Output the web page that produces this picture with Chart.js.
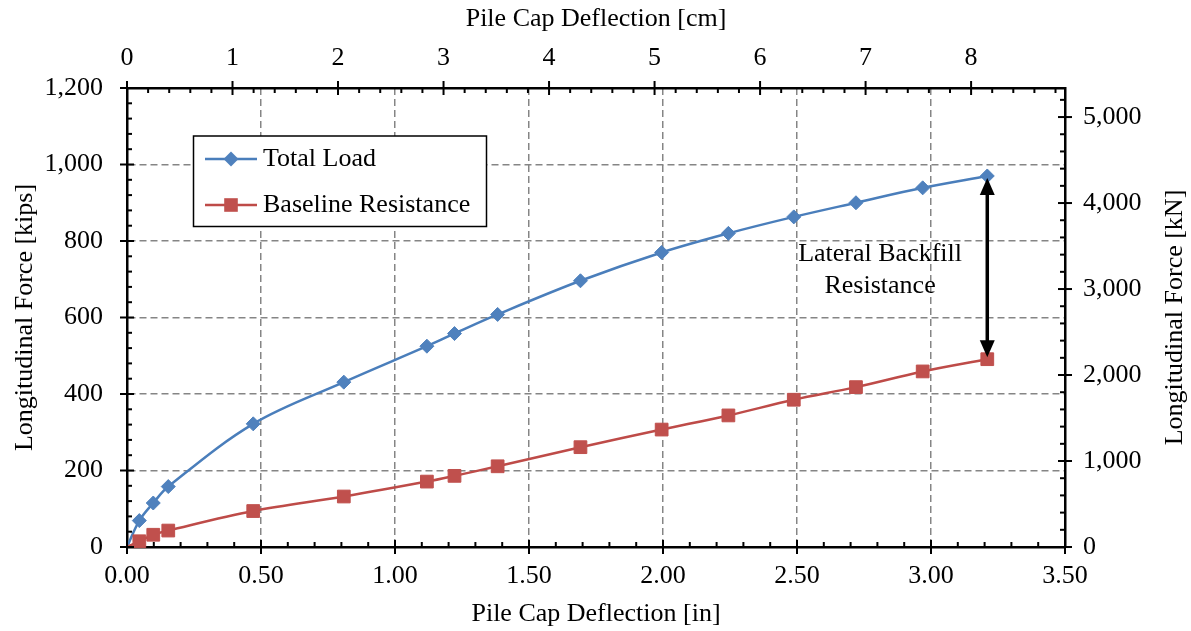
<!DOCTYPE html>
<html>
<head>
<meta charset="utf-8">
<title>Pile Cap Deflection</title>
<script src="https://cdn.jsdelivr.net/npm/chart.js@4.4.1/dist/chart.umd.min.js"></script>
<style>
  html, body { margin: 0; padding: 0; background: #fff; }
  canvas { display: block; }
</style>
</head>
<body>
<canvas id="graph01" width="1191" height="631"></canvas>
<script>
// deflection steps of the pile cap (in)
const deflexion_in = [0, 0.046, 0.098, 0.154, 0.471, 0.809, 1.119, 1.222, 1.383, 1.692, 1.995, 2.244, 2.488, 2.720, 2.969, 3.210];
// longitudinal force (kips)
const charge_totale = [0, 69, 115, 158, 322, 431, 525, 558, 608, 696, 770, 820, 863, 900, 939, 970];
const resistance_base = [0, 15, 32, 43, 94, 132, 171, 186, 211, 261, 307, 344, 385, 418, 459, 491];

const series = ['Total Load', 'Baseline Resistance'];

// axis graduations
const ticks_in = [0, 0.5, 1, 1.5, 2, 2.5, 3, 3.5];
const ticks_cm = [0, 1, 2, 3, 4, 5, 6, 7, 8];
const ticks_kips = [0, 200, 400, 600, 800, 1000, 1200];
const ticks_kN = [0, 1000, 2000, 3000, 4000, 5000];

const IN_TO_CM = 2.54;
const KIP_TO_KN = 4.44822;

const COULEURS = {
  bleu: '#4A7EBB',
  bleu_marque: '#4F81BD',
  rouge: '#BE4B48',
  rouge_marque: '#C0504D',
  grille: '#858585',
};

const POLICE = "'Liberation Serif', 'Times New Roman', serif";
const TAILLE = 26;

Chart.defaults.color = '#000';
Chart.defaults.font.family = POLICE;
Chart.defaults.font.size = TAILLE;

/**
 * petites graduations + grandes graduations sur les quatre axes
 */
function graduations(ctx, scale, pasMineur, pasMajeur, cote, area) {
  const min = scale.min, max = scale.max;
  const n = Math.floor((max - min) / pasMineur + 1e-6);
  for (let i = 0; i <= n; i++) {
    const v = min + i * pasMineur;
    const r = v / pasMajeur;
    const majeur = Math.abs(r - Math.round(r)) < 1e-6;
    const p = scale.getPixelForValue(v);
    let a, b;
    if (majeur) { a = -7; b = 7; } else { a = 0; b = 5; }
    ctx.lineWidth = 2;
    ctx.beginPath();
    if (cote === 'bottom') { ctx.moveTo(p, area.bottom - b); ctx.lineTo(p, area.bottom - a); }
    if (cote === 'top') { ctx.moveTo(p, area.top + a); ctx.lineTo(p, area.top + b); }
    if (cote === 'left') { ctx.moveTo(area.left + a, p); ctx.lineTo(area.left + b, p); }
    if (cote === 'right') { ctx.moveTo(area.right - b, p); ctx.lineTo(area.right - a, p); }
    ctx.stroke();
  }
}

function marque(ctx, style, x, y) {
  ctx.beginPath();
  if (style === 'diamant') {
    const r = 7.5;
    ctx.moveTo(x, y - r); ctx.lineTo(x + r, y); ctx.lineTo(x, y + r); ctx.lineTo(x - r, y);
  } else {
    const r = 6.8;
    ctx.rect(x - r, y - r, 2 * r, 2 * r);
  }
  ctx.closePath();
  ctx.fill();
}

const decorations = {
  id: 'decorations',
  afterDraw(chart) {
    const ctx = chart.ctx;
    const area = chart.chartArea;
    const { x, y, x2, y2 } = chart.scales;
    ctx.save();
    ctx.strokeStyle = '#000';
    graduations(ctx, x, 0.1, 0.5, 'bottom', area);
    graduations(ctx, x2, 0.2, 1, 'top', area);
    graduations(ctx, y, 40, 200, 'left', area);
    graduations(ctx, y2, 200, 1000, 'right', area);

    // titre de l'axe de droite, lu de bas en haut
    ctx.save();
    ctx.translate(1175, (area.top + area.bottom) / 2);
    ctx.rotate(-Math.PI / 2);
    ctx.font = TAILLE + 'px ' + POLICE;
    ctx.fillStyle = '#000';
    ctx.textAlign = 'center';
    ctx.textBaseline = 'middle';
    ctx.fillText('Longitudinal Force [kN]', 0, 0);
    ctx.restore();

    // légende
    const lx = 193.5, ly = 136, lw = 293, lh = 90.5;
    ctx.fillStyle = '#fff';
    ctx.fillRect(lx, ly, lw, lh);
    ctx.lineWidth = 1.5;
    ctx.strokeRect(lx, ly, lw, lh);
    const lignes = [
      { texte: series[0], couleur: COULEURS.bleu, fond: COULEURS.bleu_marque, style: 'diamant', yy: 159 },
      { texte: series[1], couleur: COULEURS.rouge, fond: COULEURS.rouge_marque, style: 'carre', yy: 205 },
    ];
    lignes.forEach((l) => {
      ctx.strokeStyle = l.couleur;
      ctx.lineWidth = 2.5;
      ctx.beginPath(); ctx.moveTo(205, l.yy); ctx.lineTo(257, l.yy); ctx.stroke();
      ctx.fillStyle = l.fond;
      marque(ctx, l.style, 231, l.yy);
      ctx.fillStyle = '#000';
      ctx.font = TAILLE + 'px ' + POLICE;
      ctx.textAlign = 'left';
      ctx.textBaseline = 'middle';
      ctx.fillText(l.texte, 263, l.yy);
    });

    // flèche entre les deux courbes au dernier palier
    const k = deflexion_in.length - 1;
    const fx = x.getPixelForValue(deflexion_in[k]);
    const haut = y.getPixelForValue(charge_totale[k]) + 2;
    const bas = y.getPixelForValue(resistance_base[k]) - 2;
    const tete = 17, demi = 7.5;
    ctx.strokeStyle = '#000';
    ctx.fillStyle = '#000';
    ctx.lineWidth = 3.5;
    ctx.beginPath(); ctx.moveTo(fx, haut + tete - 1); ctx.lineTo(fx, bas - tete + 1); ctx.stroke();
    ctx.beginPath(); ctx.moveTo(fx, haut); ctx.lineTo(fx + demi, haut + tete); ctx.lineTo(fx - demi, haut + tete); ctx.closePath(); ctx.fill();
    ctx.beginPath(); ctx.moveTo(fx, bas); ctx.lineTo(fx + demi, bas - tete); ctx.lineTo(fx - demi, bas - tete); ctx.closePath(); ctx.fill();

    ctx.font = TAILLE + 'px ' + POLICE;
    ctx.textAlign = 'center';
    ctx.textBaseline = 'middle';
    const tx = x.getPixelForValue(2.81);
    ctx.fillText('Lateral Backfill', tx, y.getPixelForValue(766));
    ctx.fillText('Resistance', tx, y.getPixelForValue(682));
    ctx.restore();
  }
};

function ticksFixes(valeurs) {
  return (axis) => { axis.ticks = valeurs.map((v) => ({ value: v })); };
}

function graph01() {
  const data = {
    datasets: [
      {
        label: series[0],
        data: deflexion_in.map((d, i) => ({ x: d, y: charge_totale[i] })),
        borderColor: COULEURS.bleu,
        backgroundColor: COULEURS.bleu_marque,
        borderWidth: 2.5,
        pointStyle: 'rectRot',
        pointRadius: (c) => (c.dataIndex === 0 ? 0 : 7),
        pointBorderWidth: 1,
        pointBorderColor: COULEURS.bleu_marque,
        showLine: true,
        tension: 0.35,
        order: 2,
      },
      {
        label: series[1],
        data: deflexion_in.map((d, i) => ({ x: d, y: resistance_base[i] })),
        borderColor: COULEURS.rouge,
        backgroundColor: COULEURS.rouge_marque,
        borderWidth: 2.5,
        pointStyle: 'rect',
        pointRadius: (c) => (c.dataIndex === 0 ? 0 : 9),
        pointBorderWidth: 1,
        pointBorderColor: COULEURS.rouge_marque,
        showLine: true,
        tension: 0.35,
        order: 1,
      },
    ]
  };

  const bord = { display: true, color: '#000', width: 2.5, dash: [7, 4] };

  const options = {
    responsive: false,
    animation: false,
    layout: { padding: 0 },
    clip: false,
    scales: {
      x: {
        type: 'linear', position: 'bottom', min: 0, max: 3.5,
        afterBuildTicks: ticksFixes(ticks_in),
        afterFit: (s) => { s.height = 84; },
        grid: { color: COULEURS.grille, lineWidth: 1.5, drawTicks: false },
        border: bord,
        ticks: { padding: 14, maxRotation: 0, callback: (v) => Number(v).toFixed(2) },
        title: { display: true, text: 'Pile Cap Deflection [in]', padding: { top: 0, bottom: 1.5 } },
      },
      x2: {
        type: 'linear', position: 'top', min: 0, max: 3.5 * IN_TO_CM,
        afterBuildTicks: ticksFixes(ticks_cm),
        afterFit: (s) => { s.height = 88; },
        grid: { display: false, drawTicks: false },
        border: { display: true, color: '#000', width: 2.5 },
        ticks: { padding: 14, maxRotation: 0, callback: (v) => String(v) },
        title: { display: true, text: 'Pile Cap Deflection [cm]', padding: { top: 3.5, bottom: 0 } },
      },
      y: {
        type: 'linear', position: 'left', min: 0, max: 1200,
        afterBuildTicks: ticksFixes(ticks_kips),
        afterFit: (s) => { s.width = 127; },
        grid: { color: COULEURS.grille, lineWidth: 1.5, drawTicks: false },
        border: bord,
        ticks: { padding: 24, callback: (v) => Number(v).toLocaleString('en-US') },
        title: { display: true, text: 'Longitudinal Force [kips]', padding: { top: 9.5, bottom: 0 } },
      },
      y2: {
        type: 'linear', position: 'right', min: 0, max: 1200 * KIP_TO_KN,
        afterBuildTicks: ticksFixes(ticks_kN),
        afterFit: (s) => { s.width = 126; },
        grid: { display: false, drawTicks: false },
        border: { display: true, color: '#000', width: 2.5 },
        ticks: { padding: 18, callback: (v) => Number(v).toLocaleString('en-US') },
      },
    },
    plugins: {
      legend: { display: false },
      tooltip: { enabled: false },
    }
  };

  const ctx = document.getElementById('graph01').getContext('2d');
  new Chart(ctx, { type: 'scatter', data: data, options: options, plugins: [decorations] });
}

graph01();
</script>
</body>
</html>
